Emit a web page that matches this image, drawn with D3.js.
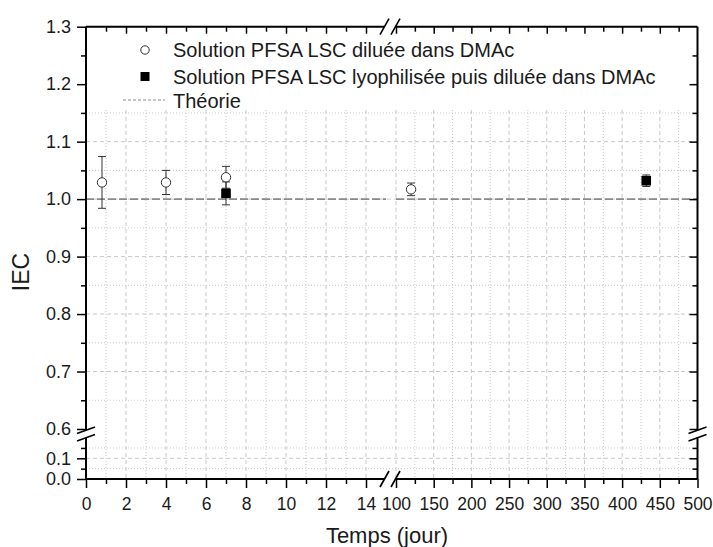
<!DOCTYPE html>
<html><head><meta charset="utf-8">
<script src="https://cdn.jsdelivr.net/npm/d3@7"></script>
<style>
body{margin:0;background:#fff;}
svg{display:block;font-family:"Liberation Sans",Arial,sans-serif;}
</style></head>
<body><svg id="c" width="713" height="547"></svg>
<script>
// ---- data ----
const seriesDilueeX   = [0.8, 4, 7, 120];
const seriesDilueeY   = [1.029, 1.029, 1.038, 1.017];
const seriesDilueeErr = [0.045, 0.021, 0.019, 0.011];
const seriesLyoX   = [7, 432];
const seriesLyoY   = [1.010, 1.032];
const seriesLyoErr = [0.020, 0.010];
const theoryValue = 1.0;
const legendLabels = ["Solution PFSA LSC diluée dans DMAc",
                      "Solution PFSA LSC lyophilisée puis diluée dans DMAc",
                      "Théorie"];
const xLeftMajor  = [0,2,4,6,8,10,12,14];
const xLeftMinor  = [1,3,5,7,9,11,13];
const xRightMajor = [100,150,200,250,300,350,400,450,500];
const xRightMinor = [125,175,225,275,325,375,425,475];
const yUpMajor  = [0.6,0.7,0.8,0.9,1.0,1.1,1.2,1.3];
const yUpMinor  = [0.65,0.75,0.85,0.95,1.05,1.15,1.25];
const yLowMajor = [0.0,0.1];
const yLowMinor = [0.05,0.15];
const xTitle = "Temps (jour)";
const yTitle = "IEC";

// ---- layout ----
const X0 = 86, X1 = 697.5, Y0 = 479, Y1 = 26.7;
const xL = d3.scaleLinear().domain([0,15]).range([86,386]);
const xR = d3.scaleLinear().domain([100,500]).range([396,697.5]);
const yU = d3.scaleLinear().domain([0.6,1.3]).range([429,26.7]);
const yLo = d3.scaleLinear().domain([0,0.2]).range([479,437.6]);
const xAny = v => v <= 15 ? xL(v) : xR(v);

const svg = d3.select("#c");
const txt = "#1a1a1a";

// ---- grid ----
const grid = svg.append("g");
const gTop = 110;
function vgrid(scale, vals, dash){
  grid.selectAll(null).data(vals).enter().append("line")
    .attr("x1", d=>scale(d)).attr("x2", d=>scale(d))
    .attr("y1", gTop).attr("y2", Y0)
    .attr("stroke","#c8c8c8").attr("stroke-width",1).attr("stroke-dasharray",dash);
}
function hgrid(scale, vals, dash){
  grid.selectAll(null).data(vals.filter(v=>scale(v)>=gTop)).enter().append("line")
    .attr("x1", X0).attr("x2", X1)
    .attr("y1", d=>scale(d)).attr("y2", d=>scale(d))
    .attr("stroke","#c8c8c8").attr("stroke-width",1).attr("stroke-dasharray",dash);
}
vgrid(xL, xLeftMajor.filter(d=>d>0), "4,3");
vgrid(xL, xLeftMinor, "1,2");
vgrid(xR, xRightMajor.filter(d=>d<500), "4,3");
vgrid(xR, xRightMinor, "1,2");
hgrid(yU, yUpMajor.filter(d=>d>0.6), "4,3");
hgrid(yU, yUpMinor, "1,2");
hgrid(yLo, yLowMajor.filter(d=>d>0), "4,3");
hgrid(yLo, yLowMinor, "1,2");

// ---- theory line ----
svg.append("line").attr("x1", xL(0)).attr("x2", xL(15))
  .attr("y1", yU(theoryValue)).attr("y2", yU(theoryValue))
  .attr("stroke","#8a8a8a").attr("stroke-width",1.6).attr("stroke-dasharray","8,3");
svg.append("line").attr("x1", xR(100)).attr("x2", xR(500))
  .attr("y1", yU(theoryValue)).attr("y2", yU(theoryValue))
  .attr("stroke","#8a8a8a").attr("stroke-width",1.6).attr("stroke-dasharray","8,3");

// ---- error bars ----
function errbars(xs, ys, es){
  const g = svg.append("g").attr("stroke","#333").attr("stroke-width",1).attr("fill","none");
  xs.forEach((x,i)=>{
    const px = xAny(x), t = yU(ys[i]+es[i]), b = yU(ys[i]-es[i]);
    g.append("line").attr("x1",px).attr("x2",px).attr("y1",t).attr("y2",b);
    g.append("line").attr("x1",px-4).attr("x2",px+4).attr("y1",t).attr("y2",t);
    g.append("line").attr("x1",px-4).attr("x2",px+4).attr("y1",b).attr("y2",b);
  });
}
errbars(seriesDilueeX, seriesDilueeY, seriesDilueeErr);
errbars(seriesLyoX, seriesLyoY, seriesLyoErr);

svg.append("g").selectAll("circle").data(seriesDilueeX).enter().append("circle")
  .attr("cx", d=>xAny(d)).attr("cy", (d,i)=>yU(seriesDilueeY[i])).attr("r",4.7)
  .attr("fill","#fff").attr("stroke","#333").attr("stroke-width",1);
svg.append("g").selectAll("rect").data(seriesLyoX).enter().append("rect")
  .attr("x", d=>xAny(d)-4.8).attr("y", (d,i)=>yU(seriesLyoY[i])-4.8)
  .attr("width",9.6).attr("height",9.6).attr("fill","#000");

// ---- axes ----
function styleAxis(g, labels, fs){
  g.select(".domain").remove();
  g.selectAll(".tick line").attr("stroke","#000").attr("stroke-width",1.5);
  g.selectAll(".tick text").attr("fill",txt).style("font-size",fs+"px")
    .style("font-family","'Liberation Sans',Arial,sans-serif");
  if(!labels) g.selectAll(".tick text").remove();
}
const fmt1 = d3.format(".1f");
// bottom / top
[[xL,xLeftMajor,xLeftMinor],[xR,xRightMajor,xRightMinor]].forEach(([s,M,m])=>{
  const a = svg.append("g").attr("transform",`translate(0,${Y0})`)
    .call(d3.axisBottom(s).tickValues(M).tickSize(9).tickPadding(10).tickFormat(d3.format("d")));
  styleAxis(a,true,17.5);
  const b = svg.append("g").attr("transform",`translate(0,${Y0})`)
    .call(d3.axisBottom(s).tickValues(m).tickSize(5));
  styleAxis(b,false);
  const c = svg.append("g").attr("transform",`translate(0,${Y1})`)
    .call(d3.axisBottom(s).tickValues(M.filter(v=>v!==0&&v!==500)).tickSize(7));
  styleAxis(c,false);
  const e = svg.append("g").attr("transform",`translate(0,${Y1})`)
    .call(d3.axisBottom(s).tickValues(m).tickSize(5));
  styleAxis(e,false);
});
// left / right
[[yU,yUpMajor,yUpMinor],[yLo,yLowMajor,yLowMinor]].forEach(([s,M,m])=>{
  const a = svg.append("g").attr("transform",`translate(${X0},0)`)
    .call(d3.axisLeft(s).tickValues(M).tickSize(9).tickPadding(6).tickFormat(fmt1));
  styleAxis(a,true,18);
  const b = svg.append("g").attr("transform",`translate(${X0},0)`)
    .call(d3.axisLeft(s).tickValues(m).tickSize(5));
  styleAxis(b,false);
  const c = svg.append("g").attr("transform",`translate(${X1},0)`)
    .call(d3.axisLeft(s).tickValues(M.filter(v=>v!==0&&v!==1.3)).tickSize(8));
  styleAxis(c,false);
  const e = svg.append("g").attr("transform",`translate(${X1},0)`)
    .call(d3.axisLeft(s).tickValues(m).tickSize(5));
  styleAxis(e,false);
});

// axis lines with breaks
const ax = svg.append("g").attr("stroke","#000").attr("stroke-width",2).attr("fill","none");
const bxA = 384, bxB = 395, byA = 430.5, byB = 437.5;
ax.append("path").attr("d",`M${X0},${Y0}H${bxA}M${bxB},${Y0}H${X1}`);
ax.append("path").attr("d",`M${X0},${Y1}H${bxA}M${bxB},${Y1}H${X1}`);
ax.append("path").attr("d",`M${X0},${Y1}V${byA}M${X0},${byB}V${Y0}`);
ax.append("path").attr("d",`M${X1},${Y1}V${byA}M${X1},${byB}V${Y0}`);
// break marks
const bm = svg.append("g").attr("stroke","#000").attr("stroke-width",1.6).attr("fill","none");
[Y0,Y1].forEach(y=>{
  bm.append("line").attr("x1",bxA-4).attr("y1",y+8).attr("x2",bxA+5).attr("y2",y-8);
  bm.append("line").attr("x1",bxB-4).attr("y1",y+8).attr("x2",bxB+5).attr("y2",y-8);
});
[X0,X1].forEach(x=>{
  bm.append("line").attr("x1",x-9).attr("y1",byA+3).attr("x2",x+9).attr("y2",byA-3.5);
  bm.append("line").attr("x1",x-9).attr("y1",byB+3.5).attr("x2",x+9).attr("y2",byB-3);
});

// ---- titles ----
svg.append("text").attr("x",387).attr("y",543).attr("text-anchor","middle")
  .attr("fill",txt).style("font-size","22px").text(xTitle);
svg.append("text").attr("transform","translate(28.5,272) rotate(-90)").attr("text-anchor","middle")
  .attr("fill",txt).style("font-size","23px").text(yTitle);

// ---- legend ----
const lg = svg.append("g");
const ly = [50, 76.5, 101];
lg.append("circle").attr("cx",145).attr("cy",ly[0]).attr("r",4.2)
  .attr("fill","#fff").attr("stroke","#333").attr("stroke-width",1);
lg.append("rect").attr("x",140.5).attr("y",ly[1]-4.5).attr("width",9).attr("height",9).attr("fill","#000");
lg.append("line").attr("x1",123).attr("x2",165).attr("y1",ly[2]-1).attr("y2",ly[2]-1)
  .attr("stroke","#8a8a8a").attr("stroke-width",1.2).attr("stroke-dasharray","3,2");
lg.selectAll("text").data(legendLabels).enter().append("text")
  .attr("x",173).attr("y",(d,i)=>ly[i]).attr("dy","0.35em")
  .attr("fill",txt).style("font-size","20px").text(d=>d);
</script></body></html>
